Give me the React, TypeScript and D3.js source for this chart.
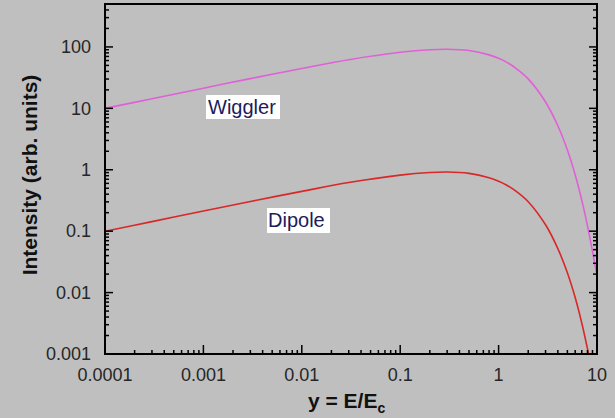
import React from "react";
import * as d3 from "d3";

// photon energy in units of the critical energy
const energies = [1e-4, 3e-4, 1e-3, 3e-3, 0.01, 0.03, 0.1, 0.2, 0.3, 0.5, 0.8, 1, 1.2, 1.5, 2, 3, 4, 5, 6, 7, 8, 9, 10];
const dipole = [0.0998, 0.143, 0.213, 0.305, 0.445, 0.62, 0.818, 0.9, 0.918, 0.872, 0.742, 0.652, 0.566, 0.449, 0.302, 0.127, 0.052, 0.021, 0.0083, 0.0032, 0.00122, 0.00047, 0.00019];
const wiggler = [9.98, 14.3, 21.3, 30.5, 44.5, 62, 81.8, 90, 91.8, 87.2, 74.2, 65.2, 56.6, 44.9, 30.2, 12.7, 5.2, 2.1, 0.83, 0.32, 0.122, 0.047, 0.019];

const xTicks = [1e-4, 1e-3, 1e-2, 0.1, 1, 10];
const xTickLabels = ["0.0001", "0.001", "0.01", "0.1", "1", "10"];
const yTicks = [0.001, 0.01, 0.1, 1, 10, 100];
const yTickLabels = ["0.001", "0.01", "0.1", "1", "10", "100"];

const W = 615, H = 418;
const left = 105, right = 597, top = 4, bottom = 354;

export default function App() {
  const x = d3.scaleLog().domain([1e-4, 10]).range([left, right]);
  const y = d3.scaleLog().domain([0.001, 500]).range([bottom, top]);

  const line = (vals: number[]) =>
    d3.line<number>()
      .x((_, i) => x(energies[i]))
      .y((d) => y(d))
      .curve(d3.curveCatmullRom.alpha(0.5))(vals) || "";

  // minor ticks 2..9 within each decade
  const minor = (lo: number, hi: number) => {
    const out: number[] = [];
    for (let p = Math.floor(Math.log10(lo)); p <= Math.ceil(Math.log10(hi)); p++) {
      for (let k = 2; k <= 9; k++) {
        const v = k * Math.pow(10, p);
        if (v > lo && v < hi) out.push(v);
      }
    }
    return out;
  };
  const xMinor = minor(1e-4, 10);
  const yMinor = minor(0.001, 500);

  const font = "'Liberation Sans', Arial, sans-serif";

  return (
    <svg width={W} height={H} style={{ position: "absolute", left: 0, top: 0 }}>
      <rect width={W} height={H} fill="#bfbfbf" />
      <defs>
        <clipPath id="plot">
          <rect x={left} y={top} width={right - left} height={bottom - top} />
        </clipPath>
      </defs>

      <g clipPath="url(#plot)" fill="none" strokeWidth={1.6}>
        <path d={line(wiggler)} stroke="#e060d8" />
        <path d={line(dipole)} stroke="#d82828" />
      </g>

      {/* frame */}
      <rect x={left} y={top} width={right - left} height={bottom - top} fill="none" stroke="#000" strokeWidth={2} />

      {/* ticks, all pointing inward */}
      <g stroke="#000" strokeWidth={1.5}>
        {xTicks.map((t) => (
          <line key={"xM" + t} x1={x(t)} x2={x(t)} y1={bottom} y2={bottom - 9} />
        ))}
        {xMinor.map((t) => (
          <line key={"xm" + t} x1={x(t)} x2={x(t)} y1={bottom} y2={bottom - 4} />
        ))}
        {yTicks.map((t) => (
          <g key={"yM" + t}>
            <line x1={left} x2={left + 8} y1={y(t)} y2={y(t)} />
            <line x1={right} x2={right - 8} y1={y(t)} y2={y(t)} />
          </g>
        ))}
        {yMinor.map((t) => (
          <g key={"ym" + t}>
            <line x1={left} x2={left + 4} y1={y(t)} y2={y(t)} />
            <line x1={right} x2={right - 4} y1={y(t)} y2={y(t)} />
          </g>
        ))}
      </g>

      <g fontFamily={font} fontSize={18} fill="#262626">
        {xTicks.map((t, i) => (
          <text key={"xl" + t} x={x(t)} y={381} textAnchor="middle">{xTickLabels[i]}</text>
        ))}
        {yTicks.map((t, i) => (
          <text key={"yl" + t} x={91} y={y(t)} dy="0.35em" textAnchor="end">{yTickLabels[i]}</text>
        ))}
      </g>

      {/* axis titles */}
      <text
        transform="translate(37,175) rotate(-90)"
        textAnchor="middle"
        fontFamily={font}
        fontWeight="bold"
        fontSize={21}
        fill="#111"
      >
        Intensity (arb. units)
      </text>
      <text x={308} y={408} fontFamily={font} fontWeight="bold" fontSize={21} fill="#111">
        y = E/E<tspan fontSize={14} dy={5}>c</tspan>
      </text>

      {/* series labels */}
      <rect x={206} y={95} width={74} height={24} fill="#fff" />
      <text x={208} y={114} fontFamily={font} fontSize={20} fill="#1c1c5c">Wiggler</text>
      <rect x={267} y={208} width={63} height={25} fill="#fff" />
      <text x={268} y={227} fontFamily={font} fontSize={20} fill="#1c1c5c">Dipole</text>
    </svg>
  );
}
